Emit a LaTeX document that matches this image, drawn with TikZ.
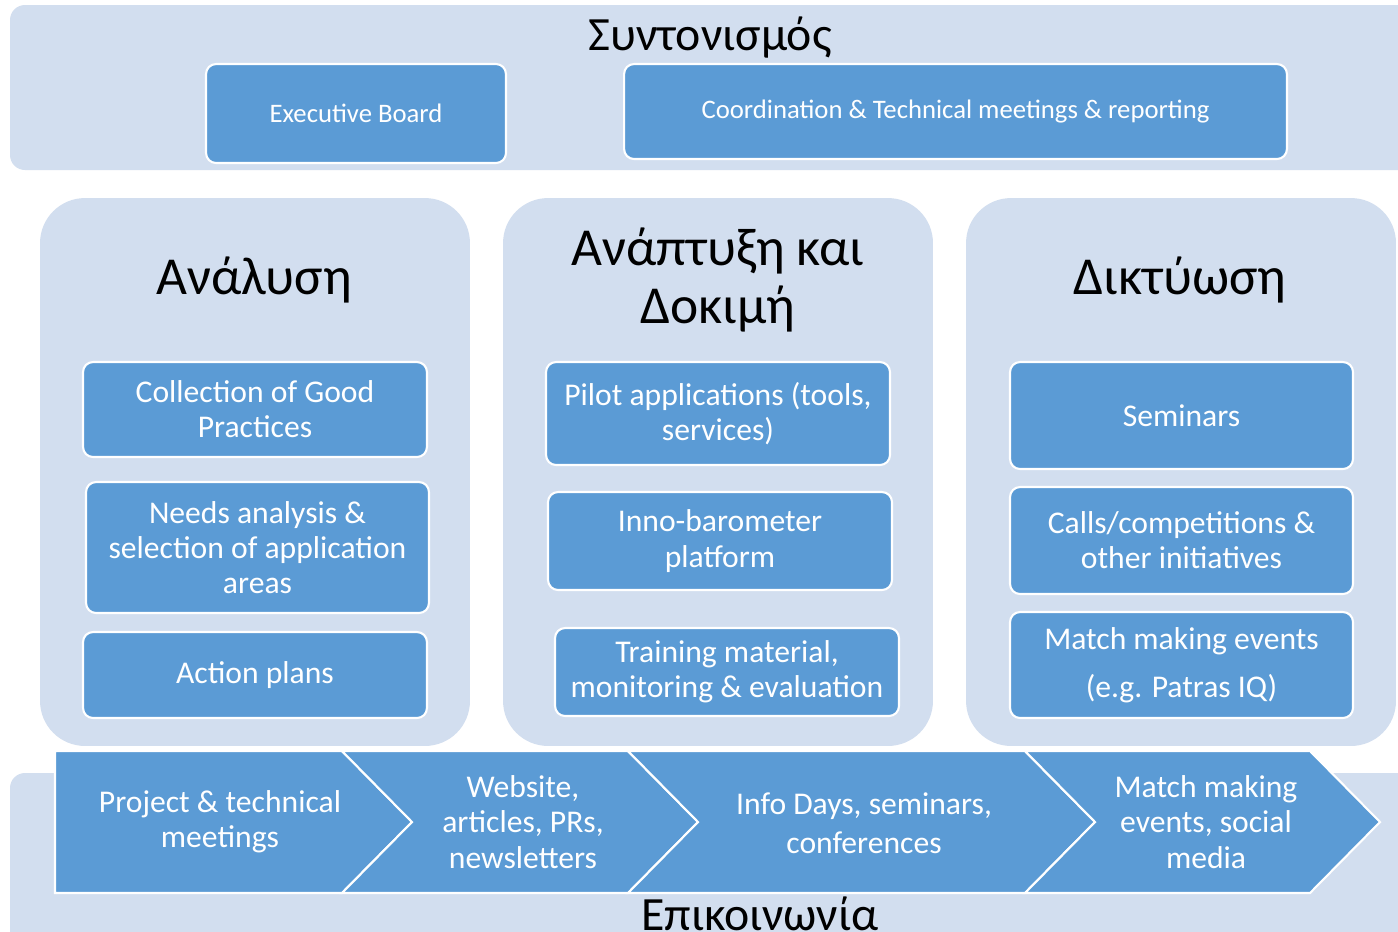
\documentclass[tikz,border=0pt]{standalone}
\usepackage{fontspec}
\setmainfont{Carlito}
\definecolor{boxblue}{RGB}{91,155,213}
\definecolor{panel}{RGB}{210,222,239}
\begin{document}
\begin{tikzpicture}[x=0.02cm,y=-0.02cm,
 panelbox/.style={fill=panel, draw=none, rounded corners=0.9cm, inner sep=0pt, minimum width=8.6cm, minimum height=10.96cm},
 bluebox/.style={fill=boxblue, draw=white, line width=1.2pt, rounded corners=0.2cm, text=white, align=center, inner sep=0pt, font=\fontsize{18}{20}\selectfont},
 smallbox/.style={bluebox, font=\fontsize{15.2}{17}\selectfont},
 chev/.style={fill=boxblue, draw=white, line width=1.2pt, line join=miter},
 chevtext/.style={text=white, align=center, font=\fontsize{18}{20}\selectfont},
 bigtitle/.style={text=black, align=center, font=\fontsize{30.4}{33}\selectfont},
 bandtitle/.style={text=black, font=\fontsize{27.2}{30}\selectfont}]
\clip (0,0) rectangle (1398,931);
\fill[white] (0,0) rectangle (1398,931);
% bands
\fill[panel, rounded corners=0.3cm] (10,5) rectangle (1440,170);
\fill[panel, rounded corners=0.3cm] (10,773) rectangle (1440,980);
\node[bandtitle] (synt) at (710,38) {Συντονισμός};
\node[bandtitle] (epik) at (760,914) {Επικοινωνία};
% top boxes
\node[smallbox, minimum width=6cm, minimum height=1.98cm] (exec) at (356,113.5) {Executive Board};
\node[smallbox, minimum width=13.26cm, minimum height=1.9cm] (coord) at (955.5,111.5) {Coordination \& Technical meetings \& reporting};
% panels
\node[panelbox] (p1) at (255,472) {};
\node[panelbox] (p2) at (718,472) {};
\node[panelbox] (p3) at (1181,472) {};
\node[bigtitle] (t1) at (254,280) {Ανάλυση};
\node[bigtitle] (t2) at (718,280) {Ανάπτυξη και\\Δοκιμή};
\node[bigtitle] (t3) at (1180,280) {Δικτύωση};
% column 1
\node[bluebox, minimum width=6.88cm, minimum height=1.9cm] (cg) at (255,409.5) {Collection of Good\\Practices};
\node[bluebox, minimum width=6.86cm, minimum height=2.62cm] (na) at (257.5,547.5) {Needs analysis \&\\selection of application\\areas};
\node[bluebox, minimum width=6.88cm, minimum height=1.72cm] (ap) at (255,675) {Action plans};
% column 2
\node[bluebox, minimum width=6.88cm, minimum height=2.06cm] (pa) at (718,413.5) {Pilot applications (tools,\\services)};
\node[bluebox, minimum width=6.88cm, minimum height=1.96cm] (ib) at (720,541) {Inno-barometer\\platform};
\node[bluebox, minimum width=6.88cm, minimum height=1.76cm] (tm) at (727,672) {Training material,\\monitoring \& evaluation};
% column 3
\node[bluebox, minimum width=6.86cm, minimum height=2.14cm] (se) at (1181.5,415.5) {Seminars};
\node[bluebox, minimum width=6.86cm, minimum height=2.14cm] (ca) at (1181.5,540.5) {Calls/competitions \&\\other initiatives};
\node[bluebox, minimum width=6.86cm, minimum height=2.12cm] (mm) at (1181.5,665) {Match making events\\[7pt](e.g. Patras IQ)};
% chevrons
\draw[chev] (55,751) -- (342,751) -- (412,822) -- (342,893) -- (55,893) -- cycle;
\draw[chev] (342,751) -- (628,751) -- (698,822) -- (628,893) -- (342,893) -- (412,822) -- cycle;
\draw[chev] (628,751) -- (1025,751) -- (1095,822) -- (1025,893) -- (628,893) -- (698,822) -- cycle;
\draw[chev] (1025,751) -- (1310,751) -- (1380,822) -- (1310,893) -- (1025,893) -- (1095,822) -- cycle;
\node[chevtext] (c1) at (220,822) {Project \& technical\\meetings};
\node[chevtext] (c2) at (523,822) {Website,\\articles, PRs,\\newsletters};
\node[chevtext, font=\fontsize{18}{22.5}\selectfont] (c3) at (864,823) {Info Days, seminars,\\conferences};
\node[chevtext] (c4) at (1206,822) {Match making\\events, social\\media};
\end{tikzpicture}
\end{document}
